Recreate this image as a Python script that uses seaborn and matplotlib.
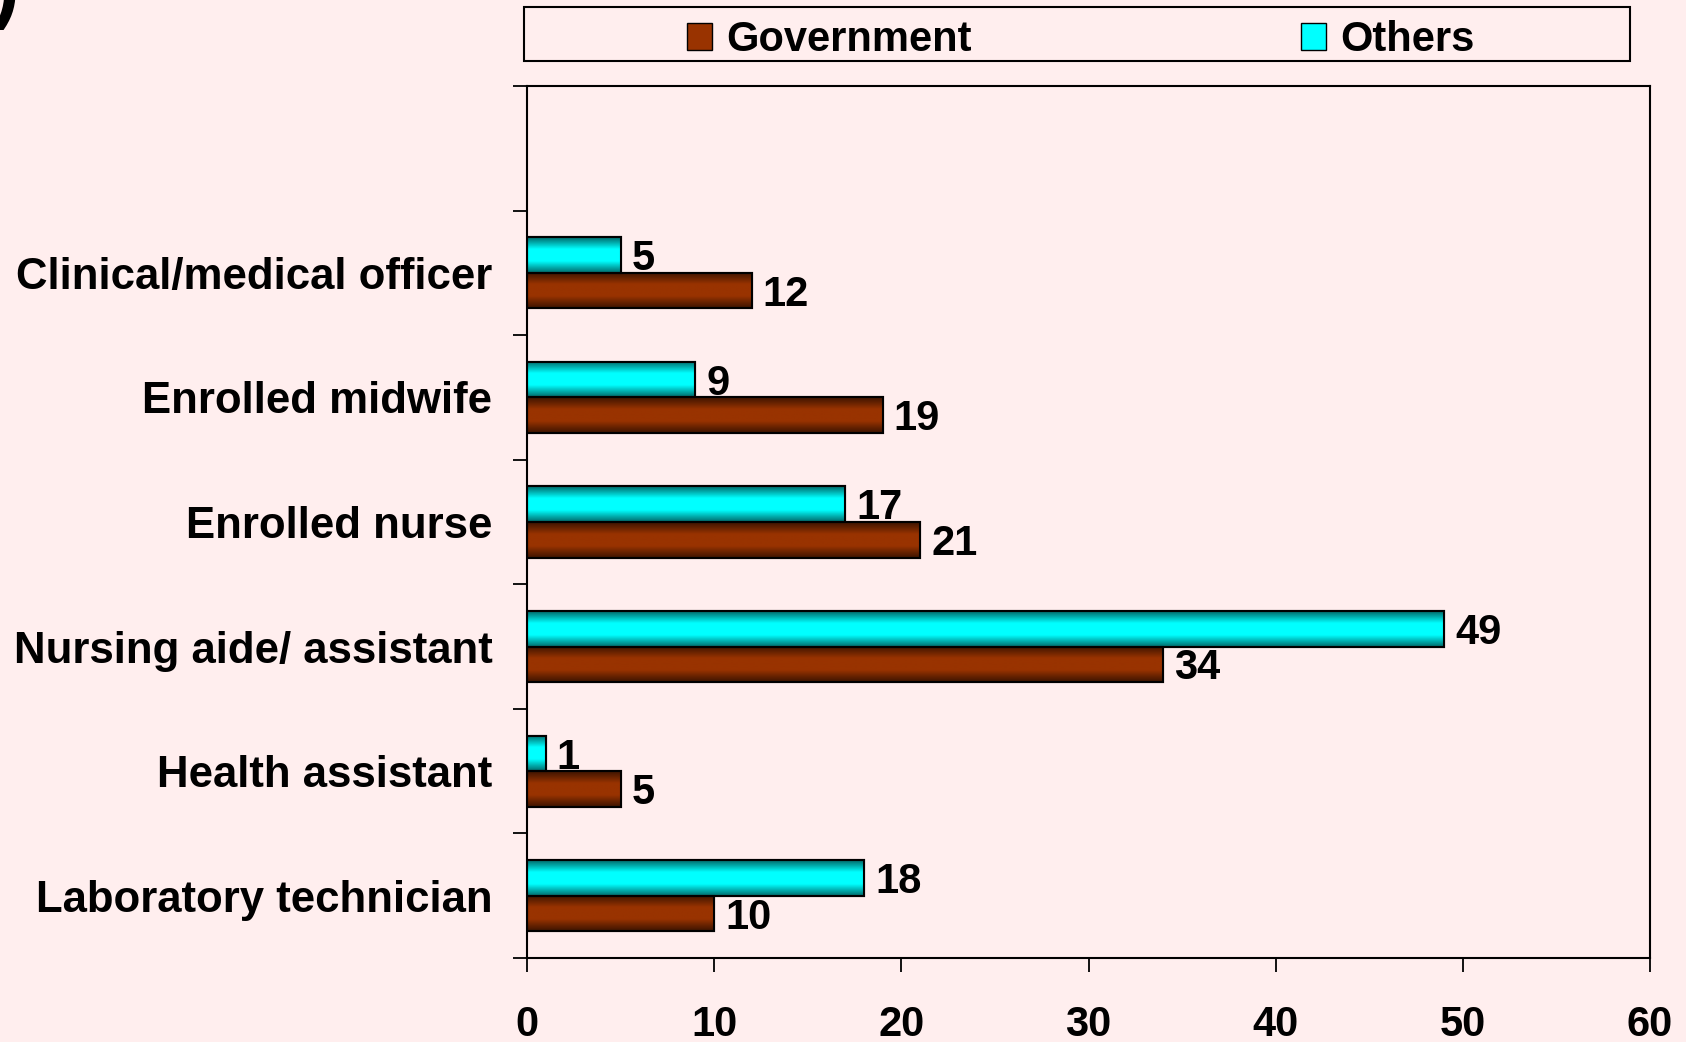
import numpy as np
import pandas as pd
import seaborn as sns
import matplotlib.pyplot as plt
from matplotlib.patches import Rectangle, Patch
from matplotlib.colors import LinearSegmentedColormap

categories = ["Clinical/medical officer", "Enrolled midwife", "Enrolled nurse",
              "Nursing aide/ assistant", "Health assistant", "Laboratory technician"]
government = [12, 19, 21, 34, 5, 10]
others = [5, 9, 17, 49, 1, 18]
series = ["Others", "Government"]
x_ticks = [0, 10, 20, 30, 40, 50, 60]

BG = "#FFEEEE"
COLORS = {"Government": "#993300", "Others": "#00FFFF"}
DARK = {"Government": "#3d1400", "Others": "#006a6a"}

df = pd.DataFrame({
    "category": categories * 2,
    "series": ["Government"] * len(categories) + ["Others"] * len(categories),
    "value": government + others,
})

sns.set_style("white")
plt.rcParams["font.family"] = ["Liberation Sans", "DejaVu Sans"]
plt.rcParams["font.weight"] = "bold"
plt.rcParams["text.color"] = "black"
plt.rcParams["xtick.color"] = "black"
plt.rcParams["ytick.color"] = "black"

fig = plt.figure(figsize=(16.86, 10.42), dpi=100, facecolor=BG)
ax = fig.add_axes([527 / 1686, 1 - 958 / 1042, 1123 / 1686, 872 / 1042])
ax.set_facecolor(BG)

sns.barplot(data=df, y="category", x="value", hue="series", order=categories,
            hue_order=series, palette=COLORS, orient="h", width=0.57,
            edgecolor="black", linewidth=1.5, legend=False, ax=ax)

# gradient shading inside each bar
for cont, name in zip(ax.containers, series):
    cmap = LinearSegmentedColormap.from_list(name, [DARK[name], COLORS[name], COLORS[name], DARK[name]])
    grad = np.linspace(0, 1, 64).reshape(-1, 1)
    for p in cont.patches:
        x0, y0 = p.get_x(), p.get_y()
        w, h = p.get_width(), p.get_height()
        im = ax.imshow(grad, cmap=cmap, aspect="auto", extent=[x0, x0 + w, y0 + h, y0],
                       zorder=p.get_zorder() + 0.1, interpolation="bilinear")
        im.set_clip_path(p)
    for p in cont.patches:
        ax.add_patch(Rectangle((p.get_x(), p.get_y()), p.get_width(), p.get_height(),
                               fill=False, edgecolor="black", linewidth=1.5, zorder=p.get_zorder() + 0.2))
    labels = ax.bar_label(cont, padding=8, fontsize=30, fontweight="bold", color="black", zorder=5)
    for t in labels:
        t.xyann = (8, -3)  # digits sit a bit lower, centred on the bar

ax.set_xlim(0, 60)
ax.set_ylim(5.5, -1.5)
ax.set_xticks(x_ticks)
ax.set_xticklabels([str(t) for t in x_ticks], fontsize=30, fontweight="bold")
ax.set_yticks(range(len(categories)))
ax.set_yticklabels(categories, fontsize=31.5, fontweight="bold")
ax.set_yticks(np.arange(-1.5, 6, 1), minor=True)
ax.tick_params(axis="y", which="major", length=0, pad=25)
ax.tick_params(axis="y", which="minor", length=10, width=1.3, direction="out", left=True)
ax.tick_params(axis="x", length=10, width=1.3, direction="out", pad=24, bottom=True)
ax.set_xlabel("")
ax.set_ylabel("")
for s in ax.spines.values():
    s.set_visible(True)
    s.set_color("black")
    s.set_linewidth(1.5)

# legend with its own frame
fig.patches.append(Rectangle((524 / 1686, 1 - 61 / 1042), 1106 / 1686, 54 / 1042,
                             transform=fig.transFigure, fill=False, edgecolor="black", linewidth=1.5))
handles = [Patch(facecolor=COLORS["Government"], edgecolor="black", label="Government"),
           Patch(facecolor=COLORS["Others"], edgecolor="black", label="Others")]
fig.legend(handles=handles, loc="center", bbox_to_anchor=(1081 / 1686, 1 - 40 / 1042), ncol=2,
           frameon=False, prop={"size": 30, "weight": "bold"}, handlelength=0.6, handleheight=0.6,
           handletextpad=0.35, columnspacing=7.9, borderaxespad=0)

# partial panel letter cut off at the top-left corner
fig.text(20 / 1686, 1 - 30 / 1042, ")", fontsize=60, fontweight="bold", ha="right", va="bottom")

fig.savefig("out.png", dpi=100, facecolor=BG)
